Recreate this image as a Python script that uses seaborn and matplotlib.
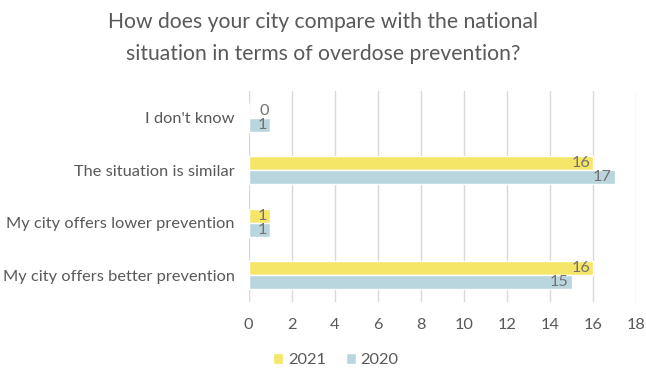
import pandas as pd
import matplotlib.pyplot as plt
import seaborn as sns

# data
categories = ["I don't know", "The situation is similar",
              "My city offers lower prevention", "My city offers better prevention"]
values_2021 = [0, 16, 1, 16]
values_2020 = [1, 17, 1, 15]
years = ["2021", "2020"]
x_ticks = list(range(0, 19, 2))

colors = {"2021": "#F5E667", "2020": "#B9D5DD"}
text_col = "#595959"

df = pd.DataFrame({
    "category": categories * 2,
    "year": [years[0]] * len(categories) + [years[1]] * len(categories),
    "value": values_2021 + values_2020,
})

sns.set_style("white")
plt.rcParams["font.family"] = ["Lato", "DejaVu Sans"]

fig = plt.figure(figsize=(6.46, 3.70), dpi=100)
ax = fig.add_axes([0.385, 0.185, 0.6, 0.568])

sns.barplot(data=df, y="category", x="value", hue="year", order=categories,
            hue_order=years, palette=colors, orient="h", width=0.54,
            saturation=1, ax=ax, legend=True)

# value labels, inside end of each bar
for cont in ax.containers:
    for bar in cont:
        w = bar.get_width()
        yc = bar.get_y() + bar.get_height() / 2
        if w > 0:
            ax.annotate(f"{w:.0f}", (w, yc), xytext=(-2, 0), textcoords="offset points",
                        ha="right", va="center", fontsize=11.8, color="#767171")
        else:
            ax.annotate(f"{w:.0f}", (w, yc), xytext=(7.5, 0), textcoords="offset points",
                        ha="left", va="center", fontsize=11.8, color="#767171")

ax.set_xlim(0, 18)
ax.set_xticks(x_ticks)
ax.set_xlabel("")
ax.set_ylabel("")
ax.grid(axis="x", color="#D9D9D9", linewidth=1)
ax.set_axisbelow(True)
for s in ["top", "right", "bottom", "left"]:
    ax.spines[s].set_visible(False)
ax.tick_params(axis="both", length=0, labelsize=11.8, labelcolor=text_col)
ax.tick_params(axis="x", pad=12)
ax.tick_params(axis="y", pad=10)

handles, labels = ax.get_legend_handles_labels()
ax.get_legend().remove()
fig.legend(handles, labels, loc="lower center", bbox_to_anchor=(0.52, -0.033), ncol=2,
           frameon=False, fontsize=11.8, labelcolor=text_col, handlelength=0.6,
           handleheight=0.6, handletextpad=0.3, columnspacing=1.2)

fig.suptitle("How does your city compare with the national\nsituation in terms of overdose prevention?",
             x=0.5, y=0.968, fontsize=15.2, color=text_col, linespacing=1.75)

fig.savefig("out.png", dpi=100, facecolor="white")
